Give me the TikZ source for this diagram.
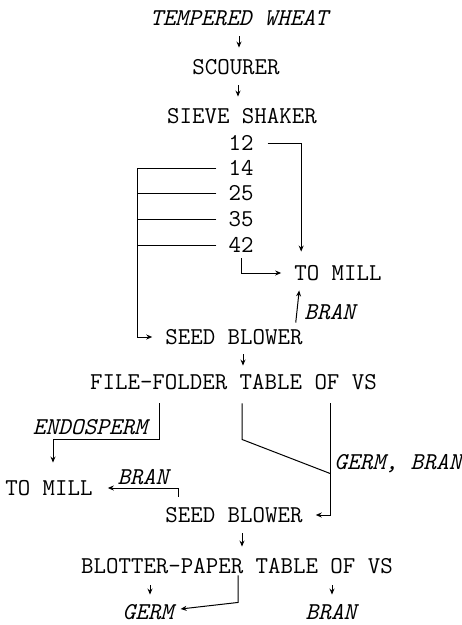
\documentclass[tikz,border=0pt]{standalone}
\usepackage{fontspec}
\usetikzlibrary{arrows.meta}

\tikzset{
    txt/.style={inner sep=0pt, text height=14.5pt, text depth=0pt,
        font=\ttfamily\fontsize{24.2}{26}\selectfont},
    lab/.style={txt, font=\ttfamily\itshape\fontsize{24.2}{26}\selectfont},
    rule/.style={line width=1pt},
    flow/.style={rule, -{Stealth[length=6pt,width=5pt]}},
}

\begin{document}
\begin{tikzpicture}[x=1pt, y=-1pt]
    \useasboundingbox (0,0) rectangle (462,625);

    % Top column
    \node[lab] (wheat) at (239,18) {TEMPERED WHEAT};
    \node[txt] (scourer) at (236,67) {SCOURER};
    \node[txt] (sieve) at (242,116) {SIEVE SHAKER};
    \node[txt] (s12) at (241,143) {12};
    \node[txt] (s14) at (241,168) {14};
    \node[txt] (s25) at (241,193) {25};
    \node[txt] (s35) at (241,219) {35};
    \node[txt] (s42) at (241,245) {42};
    \node[txt] (millA) at (338,273) {TO MILL};
    \node[txt] (seedA) at (234,337) {SEED BLOWER};

    % Lower part
    \node[txt] (folder) at (233.5,382) {FILE-FOLDER TABLE OF VS};
    \node[lab] (endo) at (90,427) {ENDOSPERM};
    \node[lab] (gb) at (398,462) {GERM, BRAN};
    \node[txt] (millB) at (49,488) {TO MILL};
    \node[txt] (seedB) at (234,515) {SEED BLOWER};
    \node[txt] (blotter) at (237,566) {BLOTTER-PAPER TABLE OF VS};
    \node[lab] (germ) at (148,612) {GERM};
    \node[lab] (bran) at (331,612) {BRAN};

    \draw[flow, shorten <=11pt, shorten >=12pt] (wheat.south) -- (wheat.south |- scourer.north);
    \draw[flow, shorten <=11pt, shorten >=12pt] ([xshift=2pt]scourer.south) -- ([xshift=2pt]scourer.south |- sieve.north);

    % Sieve outlets
    \draw[flow] ([xshift=14pt]s12.east) -| ([xshift=7pt,yshift=14pt]millA.north west);
    \draw[flow] ([xshift=-12pt]s14.west) -- ([xshift=-91pt]s14.west) |- ([xshift=-13pt]seedA.west);
    \foreach \n in {25,35,42}
        \draw[rule] ([xshift=-12pt]s\n.west) -- ([xshift=-91pt]s\n.west);
    \draw[flow] ([yshift=-6pt]s42.south) |- ([xshift=-13pt]millA.west);
    \draw[flow] ([xshift=-7pt,yshift=7pt]seedA.north east) -- node[lab, right=7pt, pos=0.33] {BRAN} ([xshift=5pt,yshift=-10pt]millA.south west);
    \draw[flow, shorten <=10pt, shorten >=9pt] ([xshift=9pt]seedA.south) -- ([xshift=9pt]seedA.south |- folder.north);

    % File-folder table outlets
    \draw[flow] ([xshift=70pt,yshift=-14pt]folder.south west) -- ++(0,36) -| ([xshift=4pt,yshift=18pt]millB.north);
    \coordinate (gbtop) at ([xshift=-47pt,yshift=-14pt]folder.south east);
    \draw[rule] ([xshift=8.5pt,yshift=-14pt]folder.south) -- ++(0,36) -- ([yshift=-70pt]gbtop);
    \draw[flow] (gbtop) |- ([xshift=13pt]seedB.east);
    \draw[flow] ([xshift=-56pt,yshift=11pt]seedB.north) |- node[lab, above=3.5pt, pos=0.75] {BRAN} ([xshift=15pt]millB.east);
    \draw[flow, shorten <=11pt, shorten >=12pt] ([xshift=8pt]seedB.south) -- ([xshift=8pt]seedB.south |- blotter.north);

    % Blotter-paper table outlets
    \draw[flow, shorten <=12pt, shorten >=10pt] ([xshift=2pt]germ.north |- blotter.south) -- ([xshift=2pt]germ.north);
    \draw[flow, shorten <=12pt, shorten >=10pt] ([xshift=1pt]bran.north |- blotter.south) -- ([xshift=1pt]bran.north);
    \draw[flow] ([xshift=1pt,yshift=-2pt]blotter.south) -- ++(0,27) -- ([xshift=7pt,yshift=3pt]germ.east);
\end{tikzpicture}
\end{document}
